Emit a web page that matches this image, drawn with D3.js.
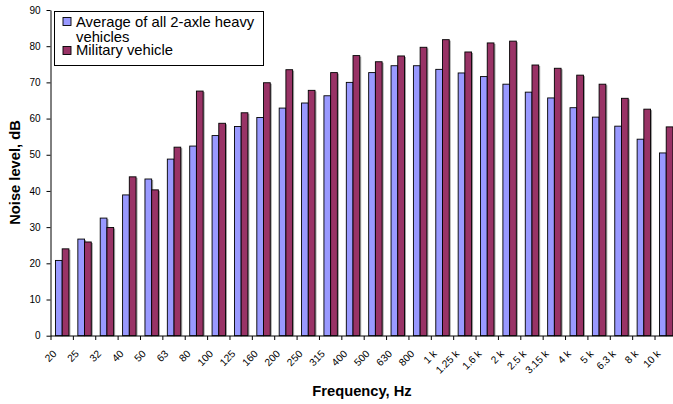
<!DOCTYPE html>
<html><head><meta charset="utf-8">
<script src="https://cdn.jsdelivr.net/npm/d3@7"></script>
<style>body{margin:0;background:#fff}svg{display:block}</style>
</head><body>
<svg id="c" width="673" height="404"></svg>
<script>
const categories = ["20","25","32","40","50","63","80","100","125","160","200","250","315","400","500","630","800","1 k","1.25 k","1.6 k","2 k","2.5 k","3.15 k","4 k","5 k","6.3 k","8 k","10 k"];
const avgValues = [20.8,26.7,32.5,38.9,43.3,48.8,52.4,55.3,57.8,60.3,62.9,64.3,66.3,70.0,72.7,74.6,74.6,73.6,72.6,71.6,69.5,67.3,65.7,63.0,60.4,57.9,54.3,50.5];
const milValues = [24.0,25.9,29.9,43.9,40.3,52.1,67.6,58.7,61.6,69.9,73.5,67.8,72.7,77.4,75.7,77.3,79.7,81.8,78.4,80.9,81.4,74.8,73.9,72.0,69.5,65.6,62.6,57.7];
const seriesNames = ["Average of all 2-axle heavy vehicles","Military vehicle"];
const yTicks = [0,10,20,30,40,50,60,70,80,90];
const colors = ["#9999FF","#993366"];

const svg = d3.select("#c");
const x0 = d3.scaleBand().domain(categories).range([51, 677.4]).padding(0);
const bw = x0.bandwidth();
const x1 = d3.scaleBand().domain([0,1]).range([bw*0.2, bw*0.8]).padding(0);
const y = d3.scaleLinear().domain([0,90]).range([335.7, 10]);

const series = [avgValues, milValues];
const g = svg.append("g");
series.forEach((vals, si) => {
  g.append("g").selectAll("rect").data(vals).join("rect")
    .attr("x", (d,i) => x0(categories[i]) + x1(si) + 1.5)
    .attr("y", d => y(d) + 1)
    .attr("width", x1.bandwidth())
    .attr("height", d => y(0) - y(d) - 1)
    .attr("fill", "#a0a0a0");
});
series.forEach((vals, si) => {
  g.append("g").selectAll("rect").data(vals).join("rect")
    .attr("x", (d,i) => x0(categories[i]) + x1(si))
    .attr("y", d => y(d))
    .attr("width", x1.bandwidth())
    .attr("height", d => y(0) - y(d))
    .attr("fill", colors[si])
    .attr("stroke", "#000").attr("stroke-width", 0.9);
});

const lf = "Liberation Sans, Arial, sans-serif";

// Y axis
const yAxis = svg.append("g").attr("transform","translate(50.5,0)")
  .call(d3.axisLeft(y).tickValues(yTicks).tickSize(4).tickPadding(6).tickSizeOuter(0));
yAxis.select(".domain").attr("stroke","#000");
yAxis.selectAll("text").attr("font-family",lf).attr("font-size","10px").attr("fill","#000");

// X axis
const xAxisG = svg.append("g").attr("transform","translate(0,336)");
xAxisG.append("line").attr("x1",50.5).attr("x2",677.4).attr("y1",0).attr("y2",0).attr("stroke","#000");
const boundaries = categories.map(c => x0(c)).concat([x0(categories[categories.length-1]) + bw]);
xAxisG.selectAll("line.tk").data(boundaries).join("line").attr("class","tk")
  .attr("x1", d => d).attr("x2", d => d).attr("y1", 0).attr("y2", 4).attr("stroke","#000");
xAxisG.selectAll("text").data(categories).join("text")
  .attr("transform", c => `translate(${x0(c) + bw/2 - 5},${18.5}) rotate(-45)`)
  .attr("text-anchor","end")
  .attr("font-family",lf).attr("font-size","10.3px")
  .text(c => c);

// Axis titles
svg.append("text").attr("x", 362).attr("y", 396).attr("text-anchor","middle")
  .attr("font-family",lf).attr("font-weight","bold").attr("font-size","14.7px")
  .text("Frequency, Hz");
svg.append("text").attr("transform","translate(20,172.5) rotate(-90)").attr("text-anchor","middle")
  .attr("font-family",lf).attr("font-weight","bold").attr("font-size","14.7px")
  .text("Noise level, dB");

// Legend
const lg = svg.append("g");
lg.append("rect").attr("x",54.5).attr("y",11.5).attr("width",209).attr("height",54).attr("fill","#fff").attr("stroke","#000");
lg.append("rect").attr("x",63).attr("y",17.5).attr("width",8).attr("height",8).attr("fill",colors[0]).attr("stroke","#000").attr("stroke-width",0.9);
lg.append("rect").attr("x",63).attr("y",46.5).attr("width",8).attr("height",8).attr("fill",colors[1]).attr("stroke","#000").attr("stroke-width",0.9);
lg.append("text").attr("x",76).attr("y",26.5).attr("font-family",lf).attr("font-size","14.8px").text("Average of all 2-axle heavy");
lg.append("text").attr("x",76).attr("y",42).attr("font-family",lf).attr("font-size","14.8px").text("vehicles");
lg.append("text").attr("x",76).attr("y",54.5).attr("font-family",lf).attr("font-size","14.8px").text(seriesNames[1]);
</script>
</body></html>
